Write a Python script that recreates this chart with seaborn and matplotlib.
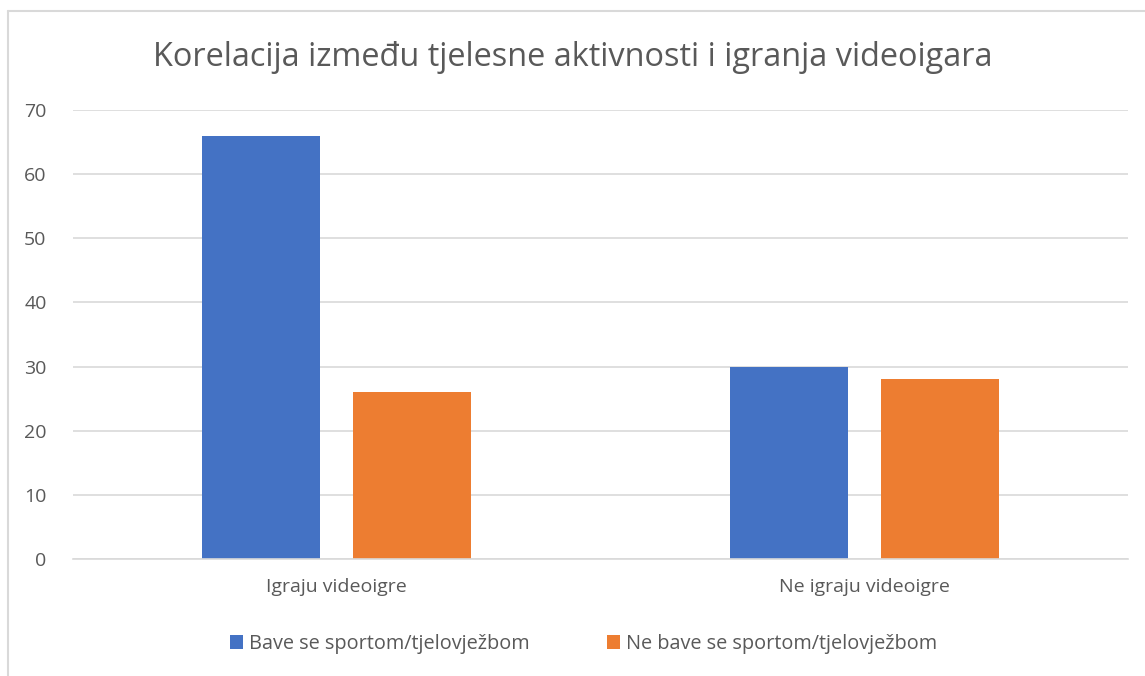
import pandas as pd
import matplotlib.pyplot as plt
import seaborn as sns
from matplotlib.lines import Line2D
from matplotlib.patches import Patch

# ------------ DATA ------------
categories = ["Igraju videoigre", "Ne igraju videoigre"]
series = ["Bave se sportom/tjelovježbom", "Ne bave se sportom/tjelovježbom"]
sport_values = [66, 30]
no_sport_values = [26, 28]
colors = ["#4472C4", "#ED7D31"]
title = "Korelacija između tjelesne aktivnosti i igranja videoigara"

df = pd.DataFrame({
    "kategorija": categories * 2,
    "serija": [series[0]] * 2 + [series[1]] * 2,
    "vrijednost": sport_values + no_sport_values,
})

# ------------ STYLE ------------
sns.set_style("white")
plt.rcParams["font.family"] = ["Open Sans", "DejaVu Sans"]
text_color = "#595959"
grid_color = "#D9D9D9"

fig = plt.figure(figsize=(11.45, 6.76), dpi=100)
ax = fig.add_axes([73 / 1145, 1 - 559 / 676, (1128 - 73) / 1145, (559 - 110) / 676])

sns.barplot(data=df, x="kategorija", y="vrijednost", hue="serija",
            palette=colors, width=0.573, gap=0.219, saturation=1,
            linewidth=0, ax=ax, legend=False)

ax.set_ylim(0, 70)
ax.set_yticks(range(0, 71, 10))
ax.set_xlim(-0.5, 1.5)
ax.yaxis.grid(True, color=grid_color, linewidth=1.2)
ax.set_axisbelow(True)
for s in ["top", "right", "left"]:
    ax.spines[s].set_visible(False)
ax.spines["bottom"].set_color(grid_color)
ax.spines["bottom"].set_linewidth(1.2)
ax.tick_params(axis="both", length=0, colors=text_color, labelsize=14)
ax.tick_params(axis="y", pad=19)
ax.tick_params(axis="x", pad=14)
ax.set_xlabel("")
ax.set_ylabel("")

fig.text(0.5, 1 - 57 / 676, title, ha="center", va="center",
         fontsize=23.4, color=text_color)

handles = [Patch(facecolor=c, edgecolor="none") for c in colors]
fig.legend(handles, series, loc="center", bbox_to_anchor=(0.51, 1 - 644 / 676),
           ncol=2, frameon=False, fontsize=14.3, labelcolor=text_color,
           handlelength=0.65, handleheight=0.65, handletextpad=0.3,
           columnspacing=3.9)

# chart area border (left and top only)
fig.add_artist(Line2D([8 / 1145, 8 / 1145], [0, 1 - 11 / 676],
                      transform=fig.transFigure, color=grid_color, linewidth=1.5))
fig.add_artist(Line2D([8 / 1145, 1], [1 - 11 / 676, 1 - 11 / 676],
                      transform=fig.transFigure, color=grid_color, linewidth=1.5))

plt.savefig("out.png", dpi=100)
plt.close()
